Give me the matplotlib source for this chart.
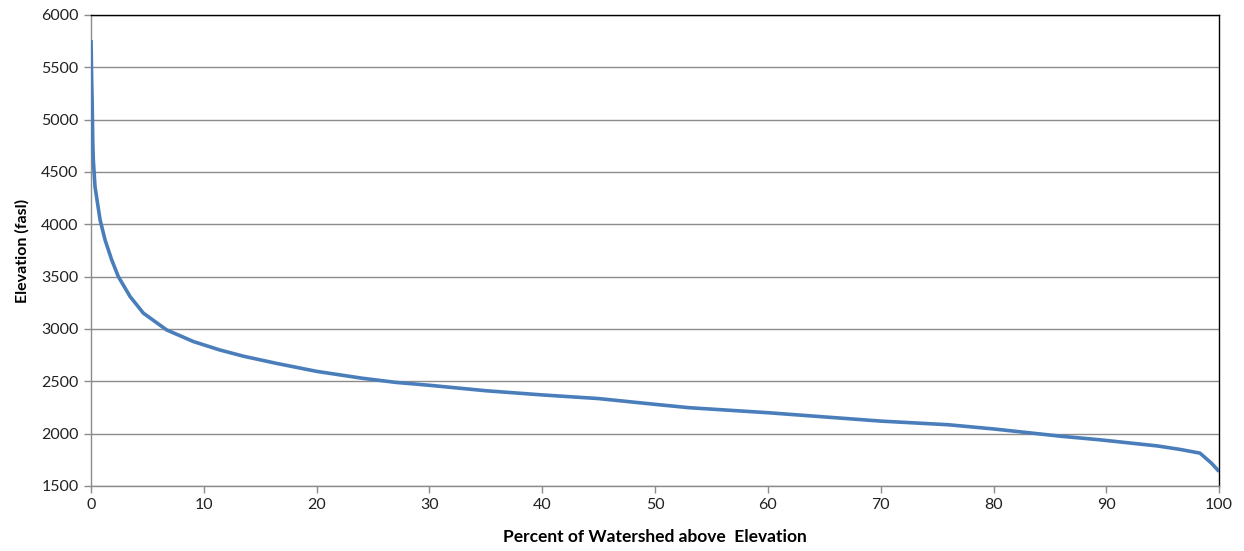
import matplotlib
matplotlib.use("Agg")
import matplotlib.pyplot as plt

percent = [0.0, 0.05, 0.1, 0.15, 0.2, 0.35, 0.8, 1.24, 1.83, 2.42, 3.46, 4.64, 6.7, 9.07, 11.4,
           13.5, 16.5, 20.0, 24.0, 27.0, 30.0, 35.0, 40.0, 45.0, 50.0, 53.0, 60.0, 65.0, 70.0,
           76.0, 80.0, 83.0, 86.0, 89.45, 94.5, 96.5, 98.3, 99.3, 100.0]
elevation = [5760, 5400, 5157, 4800, 4615, 4360, 4042, 3851, 3660, 3500, 3310, 3151, 2991, 2880, 2800,
             2740, 2670, 2595, 2530, 2490, 2462, 2410, 2370, 2335, 2280, 2248, 2200, 2160, 2120,
             2085, 2045, 2010, 1975, 1941, 1883, 1850, 1814, 1720, 1638]

xticks = list(range(0, 101, 10))
yticks = list(range(1500, 6001, 500))

plt.rcParams['font.family'] = ['Lato', 'DejaVu Sans']

fig = plt.figure(figsize=(12.44, 5.51), dpi=100)
ax = fig.add_axes([0.0732, 0.118, 0.9068, 0.8548])

ax.plot(percent, elevation, color='#4a7ebb', lw=2.6, solid_capstyle='butt', zorder=3)

ax.set_xlim(0, 100)
ax.set_ylim(1500, 6000)
ax.set_xticks(xticks)
ax.set_yticks(yticks)
ax.yaxis.grid(True, color='#8c8c8c', lw=1)
ax.set_axisbelow(True)

for s in ['left', 'bottom']:
    ax.spines[s].set_color('#8c8c8c')
for s in ['top', 'right']:
    ax.spines[s].set_color('#000000')
for s in ax.spines.values():
    s.set_linewidth(1)

ax.tick_params(axis='both', direction='out', length=5, width=1, color='#8c8c8c',
               labelsize=11.5, labelcolor='#222222', pad=4)

ax.set_xlabel('Percent of Watershed above  Elevation', fontsize=12.5, fontweight='bold', labelpad=12)
ax.set_ylabel('Elevation (fasl)', fontsize=11.5, fontweight='bold', labelpad=8)

fig.savefig('out.png', dpi=100)
